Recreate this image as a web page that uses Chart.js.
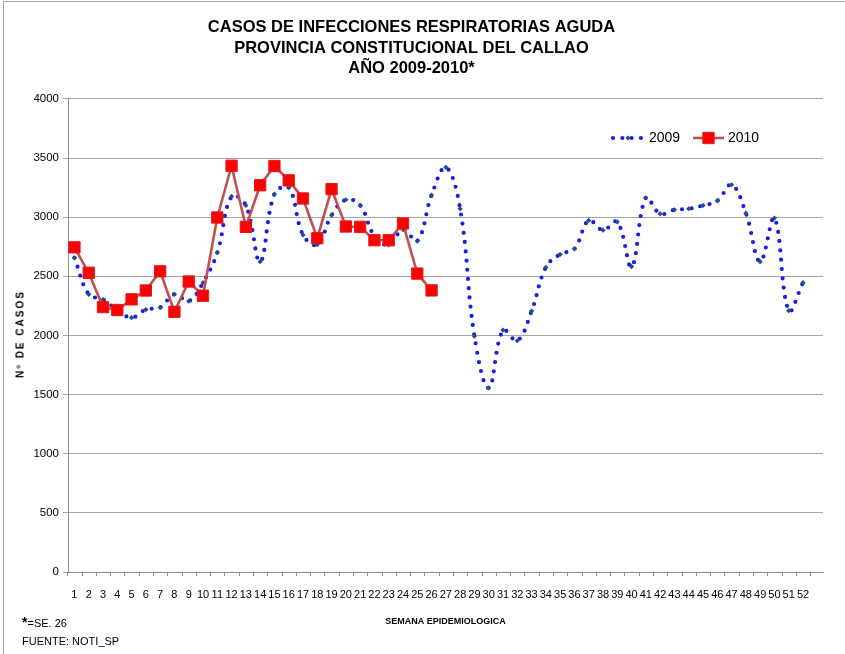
<!DOCTYPE html>
<html>
<head>
<meta charset="utf-8">
<script src="https://cdn.jsdelivr.net/npm/chart.js@4/dist/chart.umd.min.js"></script>
<style>
    html, body { margin: 0; padding: 0; background: #fff; }
    #wrap { position: relative; width: 845px; height: 654px; overflow: hidden; }
    #frame { position: absolute; left: 3px; top: 1px; width: 860px; height: 700px; border: 1px solid #a6a6a6; }
    canvas { position: absolute; left: 0; top: 0; }
    .note { position: absolute; font-family: 'Liberation Sans Narrow', 'Liberation Sans', Arial, sans-serif; font-size: 11px; color: #000; white-space: nowrap; }
    #ytitle { position: absolute; left: 20px; top: 334px; transform: translate(-50%, -50%) rotate(-90deg);
              font: bold 10px 'Liberation Sans', Arial, sans-serif; color: #000; letter-spacing: 2px; white-space: nowrap; }
</style>
</head>
<body>
<div id="wrap">
    <div id="frame"></div>
    <canvas id="chart" width="845" height="654"></canvas>
    <div id="ytitle">Nº DE CASOS</div>
    <div class="note" style="left:22px; top:614px;"><b style="font-size:14px;">*</b>=SE. 26</div>
    <div class="note" style="left:22px; top:635px;">FUENTE: NOTI_SP</div>
</div>
<script>
/* chart data */
const titleLines = ['CASOS DE INFECCIONES RESPIRATORIAS AGUDA', 'PROVINCIA CONSTITUCIONAL DEL CALLAO', 'AÑO 2009-2010*'];
const weeks = [1, 2, 3, 4, 5, 6, 7, 8, 9, 10, 11, 12, 13, 14, 15, 16, 17, 18, 19, 20, 21, 22, 23, 24, 25, 26,
    27, 28, 29, 30, 31, 32, 33, 34, 35, 36, 37, 38, 39, 40, 41, 42, 43, 44, 45, 46, 47, 48, 49, 50, 51, 52];
const cases2009 = [2656, 2348, 2304, 2215, 2150, 2219, 2236, 2348, 2290, 2446, 2700, 3175, 3099, 2624, 3195, 3250,
    2850, 2768, 3016, 3147, 3100, 2840, 2766, 2895, 2798, 3186, 3421, 3071, 1994, 1556, 2045, 1955, 2206, 2576,
    2686, 2732, 2972, 2890, 2960, 2582, 3164, 3028, 3062, 3071, 3099, 3138, 3274, 3034, 2624, 2992, 2209, 2446];
const cases2010 = [2745, 2530, 2240, 2215, 2305, 2380, 2542, 2200, 2456, 2336, 2997, 3435, 2918, 3270, 3432, 3311,
    3158, 2822, 3237, 2921, 2918, 2805, 2805, 2947, 2523, 2381];
const yTicks = [0, 500, 1000, 1500, 2000, 2500, 3000, 3500, 4000];

const narrow = "'Liberation Sans Narrow', 'Liberation Sans', Arial, sans-serif";
const arial = "'Liberation Sans', Arial, sans-serif";

function points(values) {
    return values.map((v, i) => ({ x: weeks[i], y: v }));
}

// legend drawn as line samples, like the spreadsheet legend
const lineLegend = {
    id: 'lineLegend',
    afterDraw(chart) {
        const ctx = chart.ctx;
        const y = 138;
        const items = [
            { ds: chart.data.datasets[1], x0: 613, x1: 643, tx: 649 },
            { ds: chart.data.datasets[0], x0: 693, x1: 724, tx: 728 }
        ];
        items.forEach(it => {
            const ds = it.ds;
            ctx.save();
            ctx.strokeStyle = ds.borderColor;
            ctx.lineWidth = ds.borderWidth;
            ctx.lineCap = ds.borderCapStyle || 'butt';
            ctx.setLineDash(ds.borderDash || []);
            ctx.beginPath();
            ctx.moveTo(it.x0, y);
            ctx.lineTo(it.x1, y);
            ctx.stroke();
            ctx.setLineDash([]);
            ctx.fillStyle = ds.pointBackgroundColor;
            ctx.strokeStyle = ds.pointBorderColor || ds.borderColor;
            ctx.lineWidth = ds.pointBorderWidth;
            Chart.helpers.drawPoint(ctx, { pointStyle: ds.pointStyle, radius: ds.pointRadius, borderWidth: ds.pointBorderWidth, rotation: 0 }, (it.x0 + it.x1) / 2, y);
            ctx.fillStyle = '#000';
            ctx.font = '14px ' + arial;
            ctx.textBaseline = 'middle';
            ctx.fillText(ds.label, it.tx, y);
            ctx.restore();
        });
    }
};

// small tick marks between the weeks
const weekTicks = {
    id: 'weekTicks',
    afterDraw(chart) {
        const xs = chart.scales.x, ctx = chart.ctx;
        ctx.save();
        ctx.strokeStyle = '#8c8c8c';
        ctx.lineWidth = 1;
        ctx.beginPath();
        weeks.concat([weeks.length + 1]).forEach(w => {
            const px = Math.round(xs.getPixelForValue(w - 0.5)) + 0.5;
            ctx.moveTo(px, xs.top);
            ctx.lineTo(px, xs.top + 4);
        });
        ctx.stroke();
        ctx.restore();
    }
};

new Chart(document.getElementById('chart'), {
    type: 'line',
    data: {
        datasets: [{
            label: '2010',
            data: points(cases2010),
            borderColor: '#c0504d',
            borderWidth: 2.6,
            tension: 0,
            pointStyle: 'rect',
            pointRadius: 8,
            pointBackgroundColor: '#ff0000',
            pointBorderColor: '#e01b1b',
            pointBorderWidth: 1,
            order: 0
        }, {
            label: '2009',
            data: points(cases2009),
            borderColor: '#1c1ce8',
            borderWidth: 4.2,
            borderDash: [0, 9.3],
            borderCapStyle: 'round',
            tension: 0.4,
            pointStyle: 'rectRot',
            pointRadius: 2.6,
            pointBackgroundColor: '#1f4e8a',
            pointBorderColor: '#1f4e8a',
            pointBorderWidth: 0,
            order: 1
        }]
    },
    options: {
        responsive: false,
        animation: false,
        events: [],
        layout: { padding: { left: 0, right: 22, top: 0, bottom: 0 } },
        plugins: {
            legend: { display: false },
            tooltip: { enabled: false },
            title: {
                display: true,
                text: titleLines,
                color: '#000',
                font: { family: arial, size: 16.5, weight: 'bold', lineHeight: 1.24 },
                padding: { top: 17.5, bottom: 20 }
            }
        },
        scales: {
            x: {
                type: 'linear',
                min: 0.55,
                max: 53.4,
                afterBuildTicks: s => { s.ticks = weeks.map(v => ({ value: v })); },
                afterFit: s => { s.height = 82; },
                grid: { display: false },
                border: { display: true, color: '#8c8c8c' },
                ticks: { padding: 8, autoSkip: false, maxRotation: 0, color: '#000', font: { family: narrow, size: 11 },
                         callback: v => String(v) },
                title: {
                    display: true,
                    text: 'SEMANA EPIDEMIOLOGICA',
                    color: '#000',
                    font: { family: arial, size: 9, weight: 'bold' },
                    padding: { top: 0, bottom: 27 }
                }
            },
            y: {
                min: 0,
                max: 4000,
                afterBuildTicks: s => { s.ticks = yTicks.map(v => ({ value: v })); },
                afterFit: s => { s.width = 68; },
                grid: { color: '#a6a6a6', tickLength: 5 },
                border: { color: '#8c8c8c' },
                ticks: { padding: 4, color: '#000', font: { family: narrow, size: 11.5 },
                         callback: v => String(v) }
            }
        }
    },
    plugins: [lineLegend, weekTicks]
});
</script>
</body>
</html>
